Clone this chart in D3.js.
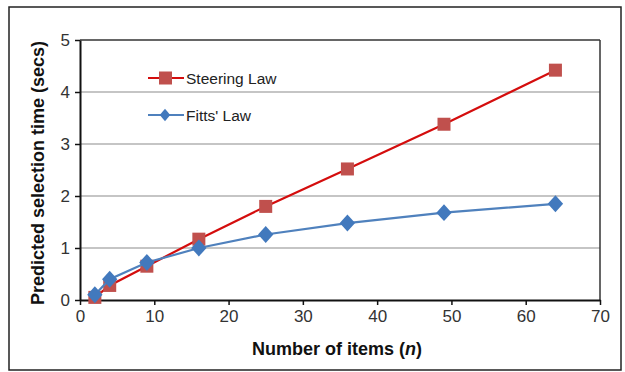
<!DOCTYPE html>
<html><head><meta charset="utf-8">
<script src="https://cdn.jsdelivr.net/npm/d3@7"></script>
<style>body{margin:0;background:#fff}svg{display:block;font-family:"Liberation Sans",Arial,sans-serif}</style>
</head><body><svg id="c" width="625" height="372"></svg>
<script>
const items = [2, 4, 9, 16, 25, 36, 49, 64];
const steeringLaw = [0.05, 0.28, 0.65, 1.17, 1.8, 2.52, 3.38, 4.42];
const fittsLaw = [0.1, 0.4, 0.72, 1.0, 1.26, 1.48, 1.68, 1.85];
const xTicks = [0, 10, 20, 30, 40, 50, 60, 70];
const yTicks = [0, 1, 2, 3, 4, 5];
const seriesNames = ["Steering Law", "Fitts' Law"];

const svg = d3.select("#c");
svg.append("rect").attr("x", 9).attr("y", 7).attr("width", 612).attr("height", 363)
  .attr("fill", "#fff").attr("stroke", "#222").attr("stroke-width", 1.5);

const L = 80, R = 600, T = 40, B = 300;
const x = d3.scaleLinear().domain([0, 70]).range([L, R]);
const y = d3.scaleLinear().domain([0, 5]).range([B, T]);

svg.append("g").selectAll("line").data(yTicks.filter(d => d > 0 && d < 5)).join("line")
  .attr("x1", L).attr("x2", R).attr("y1", d => y(d)).attr("y2", d => y(d))
  .attr("stroke", "#8c8c8c").attr("stroke-width", 1.2);
svg.append("line").attr("x1", L).attr("x2", R).attr("y1", T).attr("y2", T).attr("stroke", "#333").attr("stroke-width", 1.5);
svg.append("line").attr("x1", R).attr("x2", R).attr("y1", T).attr("y2", B).attr("stroke", "#333").attr("stroke-width", 1.5);

const xAxis = svg.append("g").attr("transform", `translate(0,${B})`)
  .call(d3.axisBottom(x).tickValues(xTicks).tickFormat(d3.format("d")).tickSize(5).tickPadding(5).tickSizeOuter(0));
const yAxis = svg.append("g").attr("transform", `translate(${L},0)`)
  .call(d3.axisLeft(y).tickValues(yTicks).tickFormat(d3.format("d")).tickSize(5).tickPadding(5).tickSizeOuter(0));
[xAxis, yAxis].forEach(a => {
  a.select(".domain").attr("stroke", "#111").attr("stroke-width", 2);
  a.selectAll(".tick line").attr("stroke", "#111").attr("stroke-width", 1.5);
  a.selectAll("text").attr("font-size", 17).attr("fill", "#333")
    .attr("font-family", "'Liberation Sans',Arial,sans-serif");
});

svg.append("text").attr("x", 337).attr("y", 355).attr("text-anchor", "middle")
  .attr("font-size", 18).attr("font-weight", "bold").attr("fill", "#111")
  .html('Number of items (<tspan font-style="italic">n</tspan>)');
svg.append("text").attr("transform", `translate(44,${(T + B) / 2 + 3}) rotate(-90)`)
  .attr("text-anchor", "middle").attr("font-size", 18).attr("font-weight", "bold").attr("fill", "#111")
  .text("Predicted selection time (secs)");

const line = d3.line().x((d, i) => x(items[i])).y(d => y(d));
svg.append("path").datum(steeringLaw).attr("d", line).attr("fill", "none")
  .attr("stroke", "#d40d0d").attr("stroke-width", 2.2);
svg.append("g").selectAll("rect").data(steeringLaw).join("rect")
  .attr("x", (d, i) => x(items[i]) - 6.5).attr("y", d => y(d) - 6.5)
  .attr("width", 13).attr("height", 13).attr("fill", "#c0504d");
svg.append("path").datum(fittsLaw).attr("d", line).attr("fill", "none")
  .attr("stroke", "#4f81bd").attr("stroke-width", 2.2);
const diamond = d3.symbol().type(d3.symbolDiamond2).size(150);
svg.append("g").selectAll("path").data(fittsLaw).join("path")
  .attr("d", diamond)
  .attr("transform", (d, i) => `translate(${x(items[i])},${y(d)}) scale(1,1.1)`)
  .attr("fill", "#4279bd");

const lg = svg.append("g");
const leg = [{y: 78, c: "#d40d0d", f: "#c0504d", t: "sq"}, {y: 115, c: "#4f81bd", f: "#4279bd", t: "di"}];
leg.forEach((d, i) => {
  lg.append("line").attr("x1", 148).attr("x2", 184).attr("y1", d.y).attr("y2", d.y)
    .attr("stroke", d.c).attr("stroke-width", 2.2);
  if (d.t === "sq") lg.append("rect").attr("x", 159).attr("y", d.y - 6.5).attr("width", 13).attr("height", 13).attr("fill", d.f);
  else lg.append("path").attr("d", d3.symbol().type(d3.symbolDiamond2).size(70)).attr("transform", `translate(165,${d.y}) scale(1,1.2)`).attr("fill", d.f);
  lg.append("text").attr("x", 186).attr("y", d.y + 5.5).attr("font-size", 15.5).attr("fill", "#222")
    .text(seriesNames[i]);
});
</script></body></html>
